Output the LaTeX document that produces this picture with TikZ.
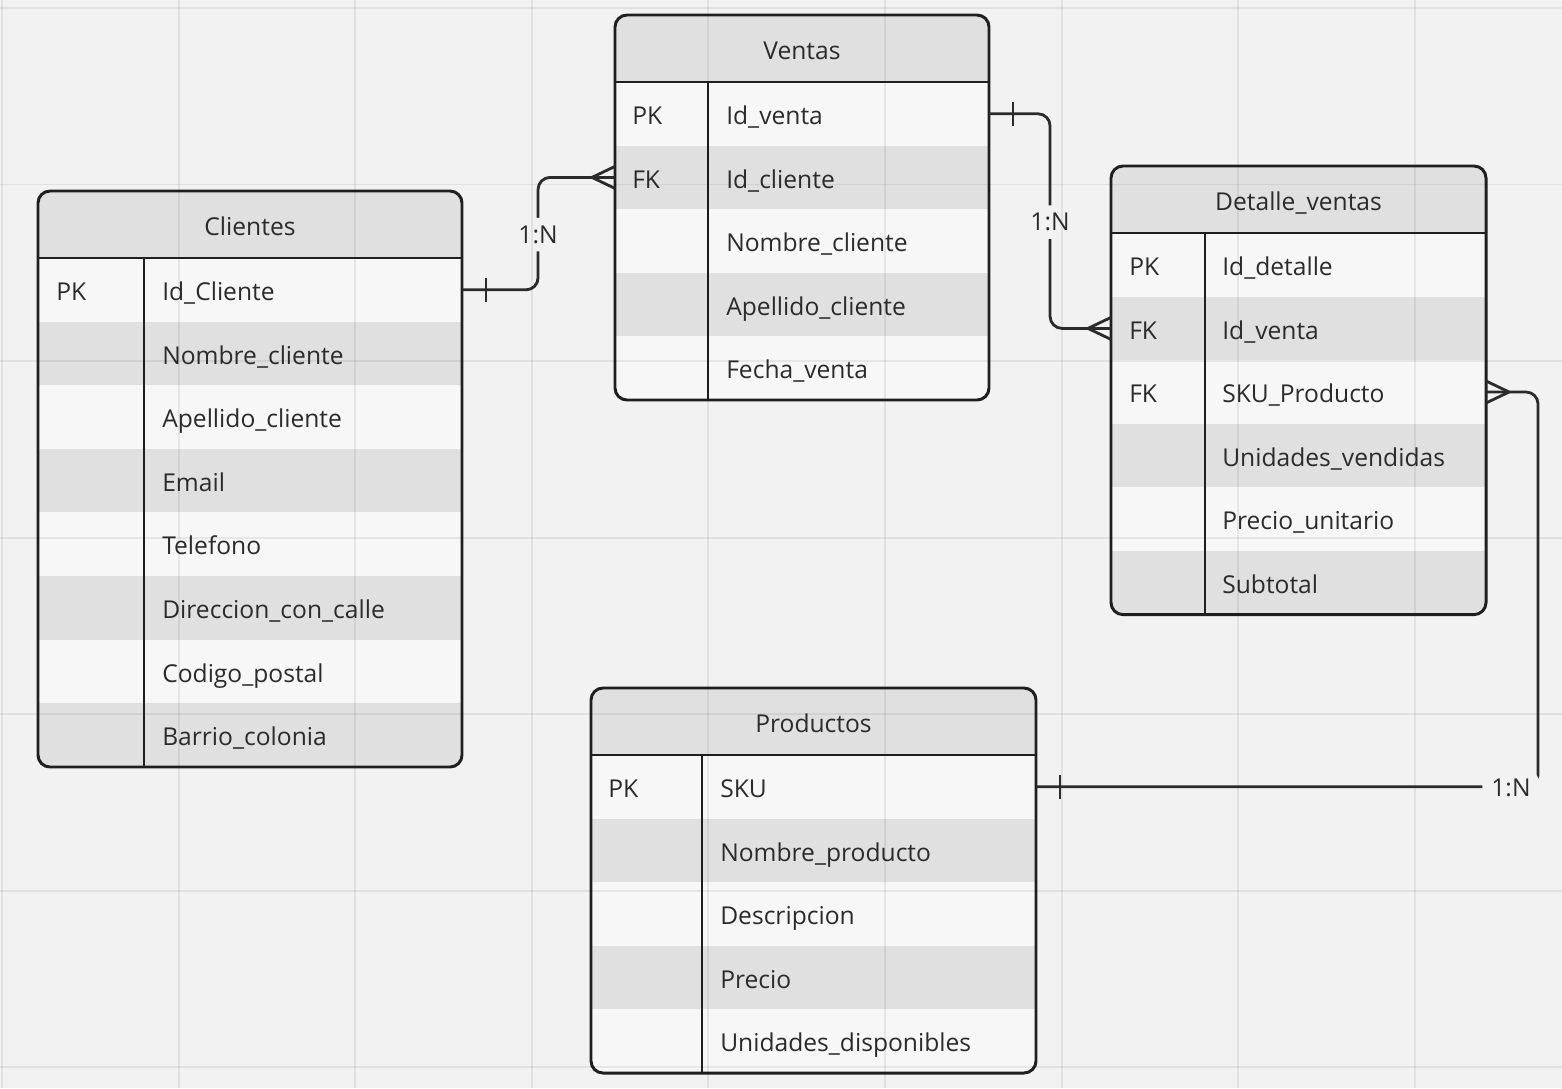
\documentclass[tikz,border=0pt]{standalone}
\usepackage{fontspec}
\setmainfont{Open Sans}
\usetikzlibrary{calc}
\definecolor{canvas}{HTML}{F2F2F2}
\definecolor{rowlight}{HTML}{F7F7F7}
\definecolor{rowdark}{HTML}{E0E0E0}
\definecolor{ink}{HTML}{1F1F1F}
\definecolor{txt}{HTML}{2B2B2B}
\newcommand{\cellfont}{\fontsize{17.5}{21}\selectfont}
\tikzset{
  rowbox/.style={inner sep=0pt,outer sep=0pt,minimum height=1.59cm},
  headbox/.style={fill=rowdark,inner sep=0pt,outer sep=0pt,minimum height=1.675cm,
                  text=txt,font=\cellfont,text height=15.3pt,text depth=0pt},
  keytxt/.style={anchor=west,inner sep=0pt,text=txt,font=\cellfont,
                 text height=15.3pt,text depth=0pt},
  tabline/.style={draw=ink,line width=2.1pt},
  tabframe/.style={draw=ink,line width=2.1pt,rounded corners=0.3cm},
  relline/.style={draw=txt,line width=2pt,rounded corners=0.3cm},
  crowfoot/.style={draw=txt,line width=2pt},
  rellabel/.style={fill=canvas,text=txt,font=\cellfont,inner xsep=0.225cm,
                   inner ysep=0.2cm,text height=12.5pt,text depth=0pt,
                   yshift=-0.025cm},
  gridln/.style={draw=black,opacity=0.065,line width=1.4pt},
}
\begin{document}
\begin{tikzpicture}[x=0.025cm,y=-0.025cm]
  \useasboundingbox (0,0) rectangle (1562,1088);
  \fill[canvas] (0,0) rectangle (1562,1088);
  % Clientes
  \begin{scope}
    \clip[rounded corners=0.3cm] (38,191) rectangle (462,767);
    \node[headbox,minimum width=10.6cm] (cli-head) at (250,224.5) {Clientes};
    \foreach \key/\fld [count=\i] in {PK/Id\_Cliente, /Nombre\_cliente,
        /Apellido\_cliente, /Email, /Telefono, /Direccion\_con\_calle,
        /Codigo\_postal, /Barrio\_colonia}{
      \pgfmathsetmacro\yc{258+63.6*(\i-0.5)}
      \ifodd\i\def\rowcol{rowlight}\else\def\rowcol{rowdark}\fi
      \node[rowbox,fill=\rowcol,minimum width=10.6cm] (cli-r\i) at (250,\yc) {};
      \node[keytxt] (cli-k\i) at (56,\yc) {\key};
      \node[keytxt] (cli-f\i) at (162,\yc) {\fld};
    }
  \end{scope}
  \draw[tabline] (38,258) -- (462,258);
  \draw[tabline] (144,258) -- (144,767);
  \draw[tabframe] (38,191) rectangle (462,767);
  % Ventas
  \begin{scope}
    \clip[rounded corners=0.3cm] (615,15) rectangle (989,400);
    \node[headbox,minimum width=9.35cm] (ven-head) at (802,48.5) {Ventas};
    \foreach \key/\fld [count=\i] in {PK/Id\_venta, FK/Id\_cliente,
        /Nombre\_cliente, /Apellido\_cliente, /Fecha\_venta}{
      \pgfmathsetmacro\yc{82+63.6*(\i-0.5)}
      \ifodd\i\def\rowcol{rowlight}\else\def\rowcol{rowdark}\fi
      \node[rowbox,fill=\rowcol,minimum width=9.35cm] (ven-r\i) at (802,\yc) {};
      \node[keytxt] (ven-k\i) at (632,\yc) {\key};
      \node[keytxt] (ven-f\i) at (726,\yc) {\fld};
    }
  \end{scope}
  \draw[tabline] (615,82) -- (989,82);
  \draw[tabline] (708,82) -- (708,400);
  \draw[tabframe] (615,15) rectangle (989,400);
  % Detalle_ventas
  \begin{scope}
    \clip[rounded corners=0.3cm] (1111,166) rectangle (1486,614.6);
    \node[headbox,minimum width=9.375cm] (det-head) at (1298.5,199.5) {Detalle\_ventas};
    \foreach \key/\fld [count=\i] in {PK/Id\_detalle, FK/Id\_venta,
        FK/SKU\_Producto, /Unidades\_vendidas, /Precio\_unitario, /Subtotal}{
      \pgfmathsetmacro\yc{233+63.6*(\i-0.5)}
      \ifodd\i\def\rowcol{rowlight}\else\def\rowcol{rowdark}\fi
      \node[rowbox,fill=\rowcol,minimum width=9.375cm] (det-r\i) at (1298.5,\yc) {};
      \node[keytxt] (det-k\i) at (1129,\yc) {\key};
      \node[keytxt] (det-f\i) at (1222,\yc) {\fld};
    }
  \end{scope}
  \draw[tabline] (1111,233) -- (1486,233);
  \draw[tabline] (1205,233) -- (1205,614.6);
  \draw[tabframe] (1111,166) rectangle (1486,614.6);
  % Productos
  \begin{scope}
    \clip[rounded corners=0.3cm] (591,688) rectangle (1036,1073);
    \node[headbox,minimum width=11.125cm] (pro-head) at (813.5,721.5) {Productos};
    \foreach \key/\fld [count=\i] in {PK/SKU, /Nombre\_producto,
        /Descripcion, /Precio, /Unidades\_disponibles}{
      \pgfmathsetmacro\yc{755+63.6*(\i-0.5)}
      \ifodd\i\def\rowcol{rowlight}\else\def\rowcol{rowdark}\fi
      \node[rowbox,fill=\rowcol,minimum width=11.125cm] (pro-r\i) at (813.5,\yc) {};
      \node[keytxt] (pro-k\i) at (608,\yc) {\key};
      \node[keytxt] (pro-f\i) at (720,\yc) {\fld};
    }
  \end{scope}
  \draw[tabline] (591,755) -- (1036,755);
  \draw[tabline] (702,755) -- (702,1073);
  \draw[tabframe] (591,688) rectangle (1036,1073);
  % Relations
  \draw[relline] (cli-r1.east) -- ($(cli-r1.east)+(76,0)$)
    |- node[rellabel,pos=0.25] (lbl-cv) {1:N} (ven-r2.west);
  \draw[relline] ($(cli-r1.east)+(24,-12)$) -- ($(cli-r1.east)+(24,12)$);
  \draw[crowfoot] ($(ven-r2.west)+(0,-11)$) -- ($(ven-r2.west)+(-23,0)$)
    -- ($(ven-r2.west)+(0,11)$);
  \draw[relline] (ven-r1.east) -- ($(ven-r1.east)+(61,0)$)
    |- node[rellabel,pos=0.25] (lbl-vd) {1:N} (det-r2.west);
  \draw[relline] ($(ven-r1.east)+(24,-12)$) -- ($(ven-r1.east)+(24,12)$);
  \draw[crowfoot] ($(det-r2.west)+(0,-11)$) -- ($(det-r2.west)+(-23,0)$)
    -- ($(det-r2.west)+(0,11)$);
  \draw[relline] (det-r3.east) -- ($(det-r3.east)+(52,0)$)
    |- node[rellabel,pos=0.527] (lbl-dp) {1:N} (pro-r1.east);
  \draw[relline] ($(pro-r1.east)+(24,-12)$) -- ($(pro-r1.east)+(24,12)$);
  \draw[crowfoot] ($(det-r3.east)+(0,-11)$) -- ($(det-r3.east)+(23,0)$)
    -- ($(det-r3.east)+(0,11)$);
  % Grid
  \foreach \gx in {0,...,8}
    \draw[gridln] ({2+176.6*\gx},0) -- ++(0,1088);
  \foreach \gy in {0,...,6}
    \draw[gridln] (0,{8+176.5*\gy}) -- ++(1562,0);
\end{tikzpicture}
\end{document}
